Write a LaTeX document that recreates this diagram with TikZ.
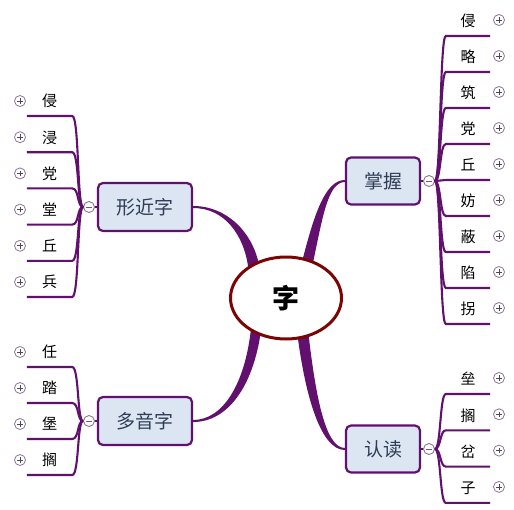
\documentclass[tikz,border=0pt]{standalone}
\usepackage{fontspec}
\newfontfamily\cjk{Noto Sans CJK SC}
\usetikzlibrary{shapes.geometric,calc}
\definecolor{vine}{HTML}{62106E}
\definecolor{boxfill}{HTML}{DCE5F2}
\definecolor{boxtext}{HTML}{2F3D56}
\definecolor{hub}{HTML}{7B0505}
\definecolor{knob}{HTML}{8F7397}
\pgfdeclarelayer{bg}
\pgfsetlayers{bg,main}

\tikzset{
 topic/.style={draw=vine, line width=2.2pt, fill=boxfill, rounded corners=5pt, text=boxtext,
   font=\cjk\fontsize{19}{19}\selectfont, inner sep=0pt},
 leaf/.style={font=\cjk\fontsize{15}{15}\selectfont, inner sep=0pt, text depth=9pt, anchor=south},
 twig/.style={draw=vine, line width=2.1pt},
 trunk/.style={fill=vine},
 plusknob/.style={circle, draw=knob, line width=0.8pt, minimum size=11pt, inner sep=0pt,
   path picture={\draw[line width=0.7pt, black!70]
     ([xshift=-2.8pt]path picture bounding box.center) -- ([xshift=2.8pt]path picture bounding box.center)
     ([yshift=-2.8pt]path picture bounding box.center) -- ([yshift=2.8pt]path picture bounding box.center);}},
 minusknob/.style={circle, draw=knob, fill=white, line width=0.9pt, minimum size=11pt, inner sep=0pt,
   path picture={\draw[line width=0.7pt, black!60]
     ([xshift=-2.8pt]path picture bounding box.center) -- ([xshift=2.8pt]path picture bounding box.center);}},
}

\begin{document}
\begin{tikzpicture}[x=1pt,y=-1pt]
\useasboundingbox (0,0) rectangle (514,509);
%%%%% centre and the four topics
\node[ellipse, draw=hub, line width=3pt, fill=white, minimum width=111pt, minimum height=82pt,
  font=\cjk\bfseries\fontsize{27}{27}\selectfont] (zi) at (286,298) {字};

\node[topic, minimum width=94pt, minimum height=48pt] (xjz) at (145,207) {形近字};
\node[topic, minimum width=74pt, minimum height=47pt] (zw) at (383,181) {掌握};
\node[topic, minimum width=94pt, minimum height=48pt] (dyz) at (145,421) {多音字};
\node[topic, minimum width=74pt, minimum height=47pt] (rd) at (383,449) {认读};

\node[minusknob] (m1) at (89,207) {};
\node[minusknob] (m2) at (429,181) {};
\node[minusknob] (m3) at (89,421) {};
\node[minusknob] (m4) at (429,449) {};
\draw[twig] (m1) -- (xjz);
\draw[twig] (m2) -- (zw);
\draw[twig] (m3) -- (dyz);
\draw[twig] (m4) -- (rd);

%%%%% tapered main branches
\begin{pgfonlayer}{bg}
\fill[trunk] ($(xjz.east)+(0,-1)$) .. controls +(34,0) and +(-6,-34) .. ($(zi.137)+(9,2)$)
  -- ($(zi.137)+(-2,4)$) .. controls +(-4,-33) and +(32,0) .. ($(xjz.east)+(0,1)$) -- cycle;
\fill[trunk] ($(zw.west)+(0,-1)$) .. controls +(-20,0) and +(12,-47) .. ($(zi.61)+(-6,4)$)
  -- ($(zi.61)+(5,5)$) .. controls +(10,-47) and +(-17,0) .. ($(zw.west)+(0,1)$) -- cycle;
\fill[trunk] ($(rd.west)+(0,1)$) .. controls +(-24,0) and +(8,62) .. ($(zi.292)+(-5,-4)$)
  -- ($(zi.292)+(6,-5)$) .. controls +(7,60) and +(-20,0) .. ($(rd.west)+(0,-1)$) -- cycle;
\fill[trunk] ($(dyz.east)+(0,-1)$) .. controls +(30,0) and +(-6,55) .. ($(zi.229)+(-4,-5)$)
  -- ($(zi.229)+(6,-3)$) .. controls +(-8,57) and +(34,0) .. ($(dyz.east)+(0,1)$) -- cycle;
\end{pgfonlayer}

%%%%% leaves
\foreach \ch [count=\i] in {侵,浸,党,堂,丘,兵}
{
 \pgfmathsetmacro\yy{116+36.2*(\i-1)}
 \node[leaf, minimum width=45pt] (a\i) at (49.5,\yy) {\ch};
 \node[plusknob] (pa\i) at (20,\yy-15) {};
 \draw[twig] (m1.west) .. controls +(-6,0) and +(7,0) .. (a\i.south east) -- (a\i.south west);
}
\foreach \ch [count=\i] in {侵,略,筑,党,丘,妨,蔽,陷,拐}
{
 \pgfmathsetmacro\yy{36+36*(\i-1)}
 \node[leaf, minimum width=44pt] (b\i) at (468,\yy) {\ch};
 \node[plusknob] (pb\i) at (499,\yy-16) {};
 \draw[twig] (m2.east) .. controls +(6,0) and +(-6,0) .. (b\i.south west) -- (b\i.south east);
}
\foreach \ch [count=\i] in {任,踏,堡,搁}
{
 \pgfmathsetmacro\yy{367+36*(\i-1)}
 \node[leaf, minimum width=45pt] (c\i) at (49.5,\yy) {\ch};
 \node[plusknob] (pc\i) at (20,\yy-15) {};
 \draw[twig] (m3.west) .. controls +(-6,0) and +(7,0) .. (c\i.south east) -- (c\i.south west);
}
\foreach \ch [count=\i] in {垒,搁,岔,子}
{
 \pgfmathsetmacro\yy{394+36.3*(\i-1)}
 \node[leaf, minimum width=44pt] (d\i) at (468,\yy) {\ch};
 \node[plusknob] (pd\i) at (499,\yy-16) {};
 \draw[twig] (m4.east) .. controls +(6,0) and +(-6,0) .. (d\i.south west) -- (d\i.south east);
}
\end{tikzpicture}
\end{document}
